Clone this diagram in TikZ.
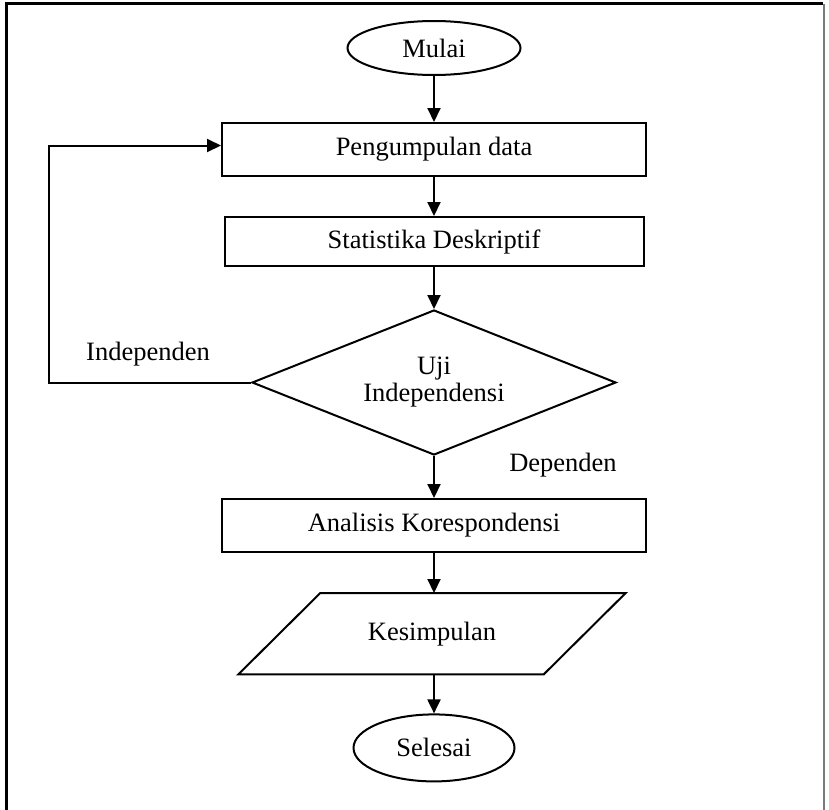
\documentclass[tikz,border=0pt]{standalone}
\usepackage{fontspec}
\setmainfont{Liberation Serif}
\usepackage{tikz}
\usepackage{xcolor}
\usetikzlibrary{arrows.meta,positioning,shapes.geometric}
\definecolor{Ink}{HTML}{000000}
\definecolor{Edge}{HTML}{7A7A7A}
\tikzset{
  term/.style={draw=Ink,ellipse,line width=2pt,inner sep=0pt,font=\fontsize{26.5}{27}\selectfont,text=Ink},
  proc/.style={draw=Ink,rectangle,line width=2pt,minimum width=424pt,minimum height=53pt,font=\fontsize{26.5}{27}\selectfont,text=Ink},
  decision/.style={draw=Ink,diamond,aspect=2.5,line width=2pt,minimum width=364pt,minimum height=145pt,align=center,font=\fontsize{26.5}{27}\selectfont,text=Ink},
  io/.style={rectangle,minimum width=305pt,minimum height=81pt,font=\fontsize{26.5}{27}\selectfont,text=Ink},
  ioline/.style={draw=Ink,line width=2pt,line join=miter},
  lbl/.style={font=\fontsize{26.5}{27}\selectfont,text=Ink},
  arr/.style={-{Triangle[length=14pt,width=13pt]},draw=Ink,line width=2pt}
}
\begin{document}
\begin{tikzpicture}[x=1pt,y=1pt]
  \useasboundingbox (0,0) rectangle (829,-809);
  \draw[draw=Ink,line width=2.5pt] (6.5,-820) |- (823,-3.5);
  \draw[draw=Edge,line width=1.5pt] (824,-3.5) -- (824,-820);
  \node[term,minimum width=173pt,minimum height=54pt] (mulai) at (434,-48) {Mulai};
  \node[proc,below=46pt of mulai] (data) {Pengumpulan data};
  \node[proc,below=39pt of data,minimum width=419pt,minimum height=49pt] (stat) {Statistika Deskriptif};
  \node[decision,below=42pt of stat] (uji) {Uji\\Independensi};
  \node[proc,below=42pt of uji] (ak) {Analisis Korespondensi};
  \node[io,below=40pt of ak,xshift=-2pt] (kes) {Kesimpulan};
  \draw[ioline] ([xshift=-41pt]kes.south west) -- ([xshift=41pt]kes.north west)
    -- ([xshift=41pt]kes.north east) -- ([xshift=-41pt]kes.south east) -- cycle;
  \node[term,below=39pt of kes,xshift=2pt,minimum width=161pt,minimum height=67pt] (selesai) {Selesai};
  \node[lbl] (indep) at (148,-354) {Independen};
  \node[lbl] (dep) at (563,-465) {Dependen};
  \draw[arr] (mulai) -- (data);
  \draw[arr] (data) -- (stat);
  \draw[arr] (stat) -- (uji);
  \draw[arr] (uji) -- (ak);
  \draw[arr] (ak.south) -- (ak.south |- kes.north);
  \draw[arr] (kes.south -| selesai.north) -- (selesai);
  \draw[arr] (uji.west) -- ++(-202,0) |- ([yshift=4pt]data.west);
\end{tikzpicture}
\end{document}
